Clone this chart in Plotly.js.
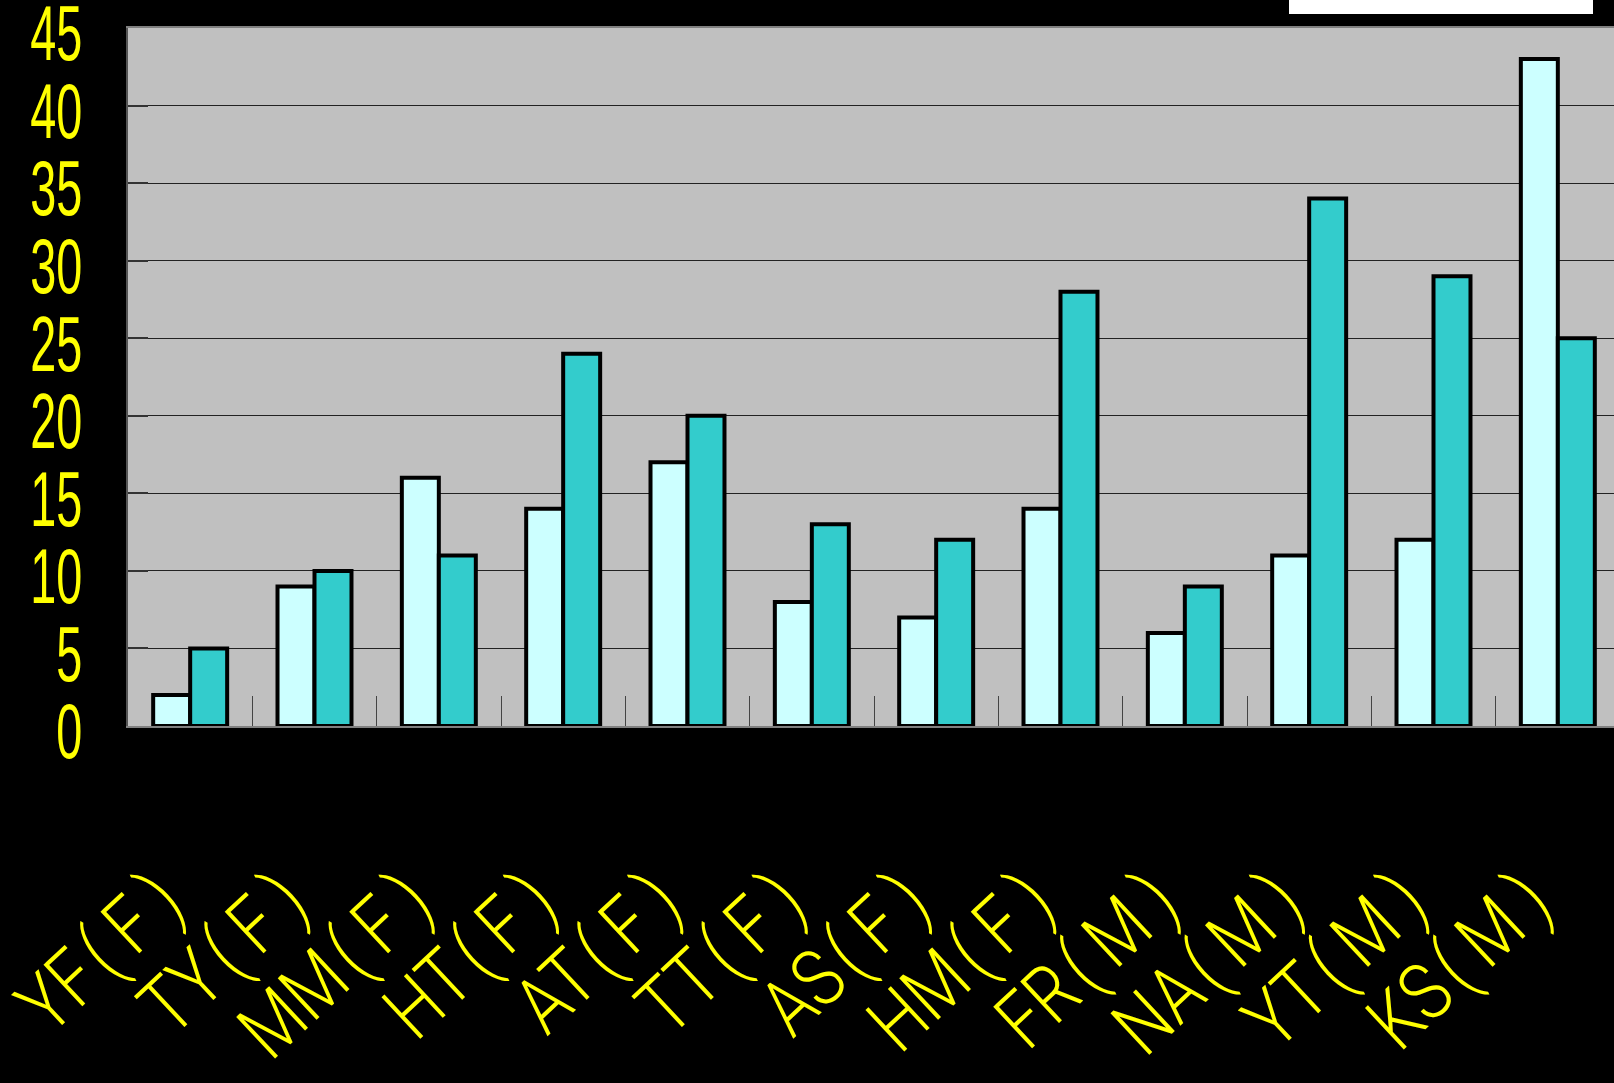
<!DOCTYPE html>
<html>
<head>
<meta charset="utf-8">
<script src="https://cdn.plot.ly/plotly-3.0.1.min.js"></script>
<style>
  html, body { margin: 0; padding: 0; background: #000; overflow: hidden; }
  #chart { width: 1620px; height: 1083px; }
</style>
</head>
<body>
<div id="chart"></div>
<script>
// Category labels (initials with sex in brackets)
const categories = ["YF(F)", "TY(F)", "MM(F)", "HT(F)", "AT(F)", "TT(F)",
                    "AS(F)", "HM(F)", "FR(M)", "NA(M)", "YT(M)", "KS(M)"];
// First series (pale cyan bars)
const seriesA = [2, 9, 16, 14, 17, 8, 7, 14, 6, 11, 12, 43];
// Second series (teal bars)
const seriesB = [5, 10, 11, 24, 20, 13, 12, 28, 9, 34, 29, 25];
// Value axis ticks
const yTicks = [0, 5, 10, 15, 20, 25, 30, 35, 40, 45];

// Wide-set brackets: small spaces around the bracket glyphs
const HAIR = "\u200A";
const THIN = "\u2009";
const categoryText = categories.map(function (c) {
  return c.replace("(", HAIR + "(" + THIN).replace(")", THIN + ")");
});

const barLine = { color: "#000000", width: 4 };

const traces = [
  { type: "bar", x: categories, y: seriesA, marker: { color: "#ccffff", line: barLine }, hoverinfo: "x+y" },
  { type: "bar", x: categories, y: seriesB, marker: { color: "#33cccc", line: barLine }, hoverinfo: "x+y" }
];

const layout = {
  width: 1620,
  height: 1083,
  margin: { l: 128, r: 0, t: 28, b: 357 },
  paper_bgcolor: "#000000",
  plot_bgcolor: "#c0c0c0",
  showlegend: false,
  barmode: "group",
  bargap: 0.405,
  bargroupgap: 0,
  xaxis: {
    type: "category",
    tickvals: categories,
    ticktext: categoryText,
    showgrid: false,
    showline: true,
    linecolor: "#808080",
    linewidth: 2,
    mirror: true,
    ticks: "inside",
    ticklen: 30,
    tickwidth: 1,
    tickcolor: "#444444",
    tickson: "boundaries",
    tickangle: -43,
    ticklabelstandoff: 70,
    ticklabeloverflow: "allow",
    tickfont: { family: "Roboto, Liberation Sans, Arial, sans-serif", weight: 300, size: 80, color: "#ffff00" }
  },
  yaxis: {
    range: [0, 45],
    tickvals: yTicks,
    ticktext: yTicks.map(String),
    showgrid: true,
    gridcolor: "#222222",
    gridwidth: 1,
    zeroline: false,
    showline: true,
    linecolor: "#555555",
    linewidth: 2,
    ticks: "inside",
    ticklen: 20,
    tickwidth: 2,
    tickcolor: "#333333",
    ticklabelstandoff: 28,
    ticklabeloverflow: "allow",
    tickfont: { family: "Liberation Sans, Arial, sans-serif", size: 78, color: "#ffff00" }
  },
  shapes: [
    // white key box at the top right, clipped by the page edge
    { type: "rect", xref: "paper", yref: "paper",
      x0: (1289 - 128) / 1492, x1: (1593 - 128) / 1492,
      y0: (1083 - 357 - 14) / 698, y1: 1.2,
      fillcolor: "#ffffff", line: { width: 0 }, layer: "above" }
  ]
};

// Narrow the tick label glyphs horizontally (condensed lettering),
// keeping each label pinned at its anchor point, then nudge it by (mx, my).
function condense(selector, sx, mx, my) {
  document.querySelectorAll(selector).forEach(function (t) {
    const b = t.getBBox();
    const anchor = t.getAttribute("text-anchor");
    const ax = anchor === "end" ? b.x + b.width : anchor === "start" ? b.x : b.x + b.width / 2;
    const ay = b.y + b.height / 2;
    const base = t.getAttribute("transform") || "";
    t.setAttribute("transform",
      "translate(" + mx + "," + my + ") " + base +
      " translate(" + ax + "," + ay + ") scale(" + sx + ",1) translate(" + (-ax) + "," + (-ay) + ")");
  });
}

Plotly.newPlot("chart", traces, layout, { displayModeBar: false, staticPlot: true }).then(function () {
  condense(".ytick text", 0.6, 0, 5);
  condense(".xtick text", 0.82, -30, 25);
});
</script>
</body>
</html>
